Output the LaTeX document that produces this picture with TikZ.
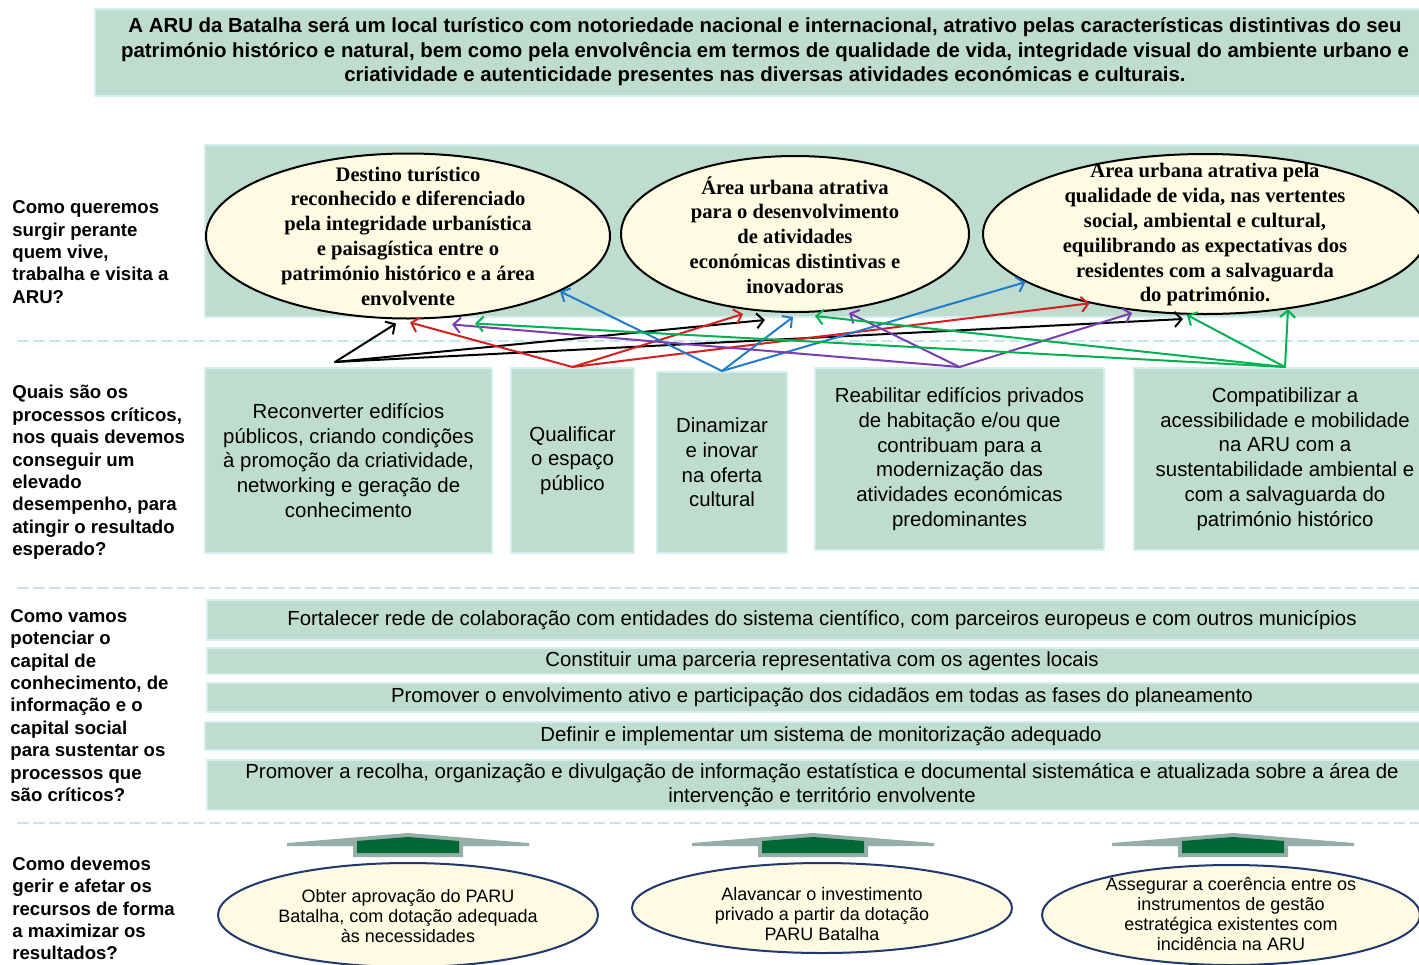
\documentclass[tikz,border=0pt]{standalone}
\usepackage{fontspec}
\setmainfont{Liberation Sans}
\newfontfamily\tnr{Liberation Serif}
\usetikzlibrary{arrows.meta,calc,shapes.geometric}
\definecolor{sage}{RGB}{191,221,207}
\definecolor{sageedge}{RGB}{212,237,238}
\definecolor{cream}{RGB}{255,250,226}
\definecolor{dashc}{RGB}{196,230,234}
\definecolor{navy}{RGB}{32,56,110}
\definecolor{arrred}{RGB}{214,32,32}
\definecolor{arrblue}{RGB}{34,124,204}
\definecolor{arrpurple}{RGB}{122,62,176}
\definecolor{arrgreen}{RGB}{0,178,80}
\definecolor{chevgrey}{RGB}{150,174,170}
\definecolor{chevgreen}{RGB}{0,104,52}
\begin{document}
\begin{tikzpicture}[x=0.5pt,y=-0.5pt,line join=round,line cap=round,
    >={Straight Barb[length=3.5pt,width=7.5pt]},
    box/.style={draw=sageedge,line width=1pt,fill=sage,inner sep=0pt,align=center,font=\fontsize{10.2}{12.35}\selectfont},
    oval/.style={ellipse,draw,line width=1pt,fill=cream,inner sep=0pt},
    ovaltext/.style={align=center,inner sep=0pt,font=\tnr\bfseries\fontsize{10.3}{12.4}\selectfont},
    basetext/.style={align=center,inner sep=0pt,font=\fontsize{9}{9.9}\selectfont},
    qlabel/.style={anchor=west,align=left,inner sep=0pt,font=\bfseries\fontsize{9.3}{11.2}\selectfont},
    sep/.style={draw=dashc,line width=1pt,dash pattern=on 5pt off 3pt},
    link/.style={->,line width=1pt}]
    \useasboundingbox (0,0) rectangle (1419,964);
    \fill[white] (0,0) rectangle (1419,964);
    % vision
    \node[box,minimum width=670pt,minimum height=43.5pt,font=\bfseries\fontsize{10.2}{12.25}\selectfont] (vis) at (765,52)
      {A ARU da Batalha será um local turístico com notoriedade nacional e internacional, atrativo pelas características distintivas do seu\\
       património histórico e natural, bem como pela envolvência em termos de qualidade de vida, integridade visual do ambiente urbano e\\
       criatividade e autenticidade presentes nas diversas atividades económicas e culturais.};
    % separators
    \draw[sep] (18,341)--(1419,341);
    \draw[sep] (18,588)--(1419,588);
    \draw[sep] (18,823)--(1419,823);
    % questions
    \node[qlabel] (q1) at (12,252) {Como queremos\\surgir perante\\quem vive,\\trabalha e visita a\\ARU?};
    \node[qlabel] (q2) at (12,472.5) {Quais são os\\processos críticos,\\nos quais devemos\\conseguir um\\elevado\\desempenho, para\\atingir o resultado\\esperado?};
    \node[qlabel] (q3) at (10,705.5) {Como vamos\\potenciar o\\capital de\\conhecimento, de\\informação e o\\capital social\\para sustentar os\\processos que\\são críticos?};
    \node[qlabel] (q4) at (12,908.5) {Como devemos\\gerir e afetar os\\recursos de forma\\a maximizar os\\resultados?};
    % objectives
    \node[box,minimum width=615pt,minimum height=86pt] (band) at (820,231) {};
    \node[oval,minimum width=202pt,minimum height=82.5pt] (e1) at (408,236) {};
    \node[oval,minimum width=174pt,minimum height=78pt] (e2) at (795,234) {};
    \node[oval,minimum width=222pt,minimum height=80pt] (e3) at (1205,234) {};
    \node[ovaltext] (e1t) at (408,236) {Destino turístico\\reconhecido e diferenciado\\pela integridade urbanística\\e paisagística entre o\\património histórico e a área\\envolvente};
    \node[ovaltext] (e2t) at (795,235) {Área urbana atrativa\\para o desenvolvimento\\de atividades\\económicas distintivas e\\inovadoras};
    \node[ovaltext] (e3t) at (1205,235) {Area urbana atrativa pela\\qualidade de vida, nas vertentes\\social, ambiental e cultural,\\equilibrando as expectativas dos\\residentes com a salvaguarda\\do património.};
    % processes
    \node[box,minimum width=143.5pt,minimum height=92.5pt] (b1) at (348.5,460.5) {Reconverter edifícios\\públicos, criando condições\\à promoção da criatividade,\\networking e geração de\\conhecimento};
    \node[box,minimum width=61.5pt,minimum height=92.5pt] (b2) at (572.5,460.5) {Qualificar\\o espaço\\público};
    \node[box,minimum width=65pt,minimum height=90.5pt] (b3) at (722,462.5) {Dinamizar\\e inovar\\na oferta\\cultural};
    \node[box,minimum width=144.5pt,minimum height=91pt] (b4) at (959.5,459) {Reabilitar edifícios privados\\de habitação e/ou que\\contribuam para a\\modernização das\\atividades económicas\\predominantes};
    \node[box,minimum width=151pt,minimum height=91pt] (b5) at (1285,459) {Compatibilizar a\\acessibilidade e mobilidade\\na ARU com a\\sustentabilidade ambiental e\\com a salvaguarda do\\património histórico};
    % capital
    \node[box,minimum width=615pt,minimum height=20pt] (r1) at (822,620) {Fortalecer rede de colaboração com entidades do sistema científico, com parceiros europeus e com outros municípios};
    \node[box,minimum width=615pt,minimum height=13pt] (r2) at (822,661) {Constituir uma parceria representativa com os agentes locais};
    \node[box,minimum width=615pt,minimum height=14.5pt] (r3) at (822,697.5) {Promover o envolvimento ativo e participação dos cidadãos em todas as fases do planeamento};
    \node[box,minimum width=616pt,minimum height=14pt] (r4) at (821,736) {Definir e implementar um sistema de monitorização adequado};
    \node[box,minimum width=615pt,minimum height=25pt] (r5) at (822,785) {Promover a recolha, organização e divulgação de informação estatística e documental sistemática e atualizada sobre a área de\\intervenção e território envolvente};
    % resources
    \foreach \cx in {408,813,1233}{
      \fill[chevgrey] (\cx-121,843)--(\cx,833)--(\cx+121,843)--(\cx+121,846)--(\cx+55,846)--(\cx+55,857)--(\cx-55,857)--(\cx-55,846)--(\cx-121,846)--cycle;
      \fill[chevgreen] (\cx-51,841)--(\cx,837)--(\cx+51,841)--(\cx+51,853)--(\cx-51,853)--cycle;
    }
    \node[oval,draw=navy,minimum width=190pt,minimum height=52pt] (e4) at (408,915) {};
    \node[oval,draw=navy,minimum width=190pt,minimum height=45pt] (e5) at (822,908) {};
    \node[oval,draw=navy,minimum width=189pt,minimum height=50pt] (e6) at (1231,915) {};
    \node[basetext] (e4t) at (408,916) {Obter aprovação do PARU\\Batalha, com dotação adequada\\às necessidades};
    \node[basetext] (e5t) at (822,914) {Alavancar o investimento\\privado a partir da dotação\\PARU Batalha};
    \node[basetext] (e6t) at (1231,914) {Assegurar a coerência entre os\\instrumentos de gestão\\estratégica existentes com\\incidência na ARU};
    % links
    \coordinate (bk) at (335,362);
    \draw[link] (bk)--($(e1.south)+(-12,4)$);
    \draw[link] (bk)--($(e2.south)+(-30,7)$);
    \draw[link] (bk)--($(e3.south)+(-22,4)$);
    \draw[link,arrred] (b2.north)--($(e1.south)+(2,3)$);
    \draw[link,arrred] (b2.north)--($(e2.south)+(-52,1)$);
    \draw[link,arrred] (b2.north)--(e3.211);
    \draw[link,arrblue] (b3.north)--(e1.340);
    \draw[link,arrblue] (b3.north)--($(e2.south)+(-2,4)$);
    \draw[link,arrblue] (b3.north)--(e3.195);
    \draw[link,arrpurple] (b4.north)--($(e1.south)+(44,5)$);
    \draw[link,arrpurple] (b4.north)--($(e2.south)+(54,0)$);
    \draw[link,arrpurple] (b4.north)--($(e3.south)+(-73,-2)$);
    \draw[link,arrgreen] (b5.north)--($(e1.south)+(67,4)$);
    \draw[link,arrgreen] (b5.north)--($(e2.south)+(20,3)$);
    \draw[link,arrgreen] (b5.north)--($(e3.south)+(-18,0)$);
    \draw[link,arrgreen] (b5.north)--($(e3.south)+(83,-6)$);
\end{tikzpicture}
\end{document}
